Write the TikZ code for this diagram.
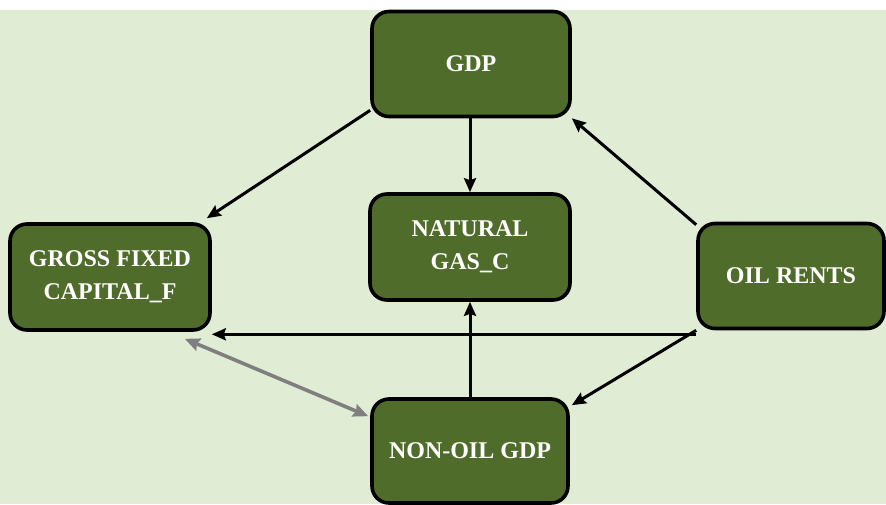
\documentclass[tikz,border=0pt]{standalone}
\usepackage{fontspec}
\setmainfont{Liberation Serif}
\usetikzlibrary{arrows.meta,calc}
\definecolor{bgc}{HTML}{E1ECD4}
\definecolor{boxc}{HTML}{506C2B}
\definecolor{greyarr}{HTML}{7F7F7F}
\tikzset{
  varbox/.style={draw=black, line width=3.6pt, fill=boxc, rounded corners=17pt,
    text=white, align=center, inner sep=0pt,
    font=\bfseries\fontsize{24}{33}\selectfont},
  arr/.style={draw=black, line width=3pt,
    -{Stealth[length=14pt,width=12pt,inset=2pt]}},
  grarr/.style={draw=greyarr, line width=3.6pt,
    {Stealth[length=15pt,width=13pt,inset=2pt]}-{Stealth[length=15pt,width=13pt,inset=2pt]}}
}
\begin{document}
\begin{tikzpicture}[x=1pt,y=-1pt]
\useasboundingbox (0,0) rectangle (886,504);
\fill[white] (0,0) rectangle (886,504);
\fill[bgc] (0,10) rectangle (886,504);
\node[varbox, minimum width=198pt, minimum height=105pt] (gdp) at (471,64) {GDP};
\node[varbox, minimum width=200pt, minimum height=106pt] (gfcf) at (110,277) {GROSS FIXED\\CAPITAL\_F};
\node[varbox, minimum width=200pt, minimum height=106pt] (gas) at (470,247) {NATURAL\\GAS\_C};
\node[varbox, minimum width=186pt, minimum height=105pt] (oil) at (791,276) {OIL RENTS};
\node[varbox, minimum width=196pt, minimum height=104pt] (non) at (470,451) {NON-OIL GDP};
\draw[arr] ([yshift=8pt]gdp.south west) -- ([xshift=-5pt,yshift=4pt]gfcf.north east);
\draw[arr] (gdp.south -| gas.north) -- (gas.north);
\draw[arr] ([yshift=-3pt]oil.north west) -- (gdp.south east);
\draw[arr] ([yshift=-4pt]oil.south west) -- ([yshift=-4pt]oil.south west -| gfcf.east);
\draw[arr] (oil.south west) -- ([xshift=2pt,yshift=-8pt]non.north east);
\draw[arr] (non.north) -- (gas.south);
\draw[grarr] ([xshift=-27pt,yshift=-7pt]gfcf.south east) -- ([xshift=-2pt,yshift=-19pt]non.north west);
\end{tikzpicture}
\end{document}
